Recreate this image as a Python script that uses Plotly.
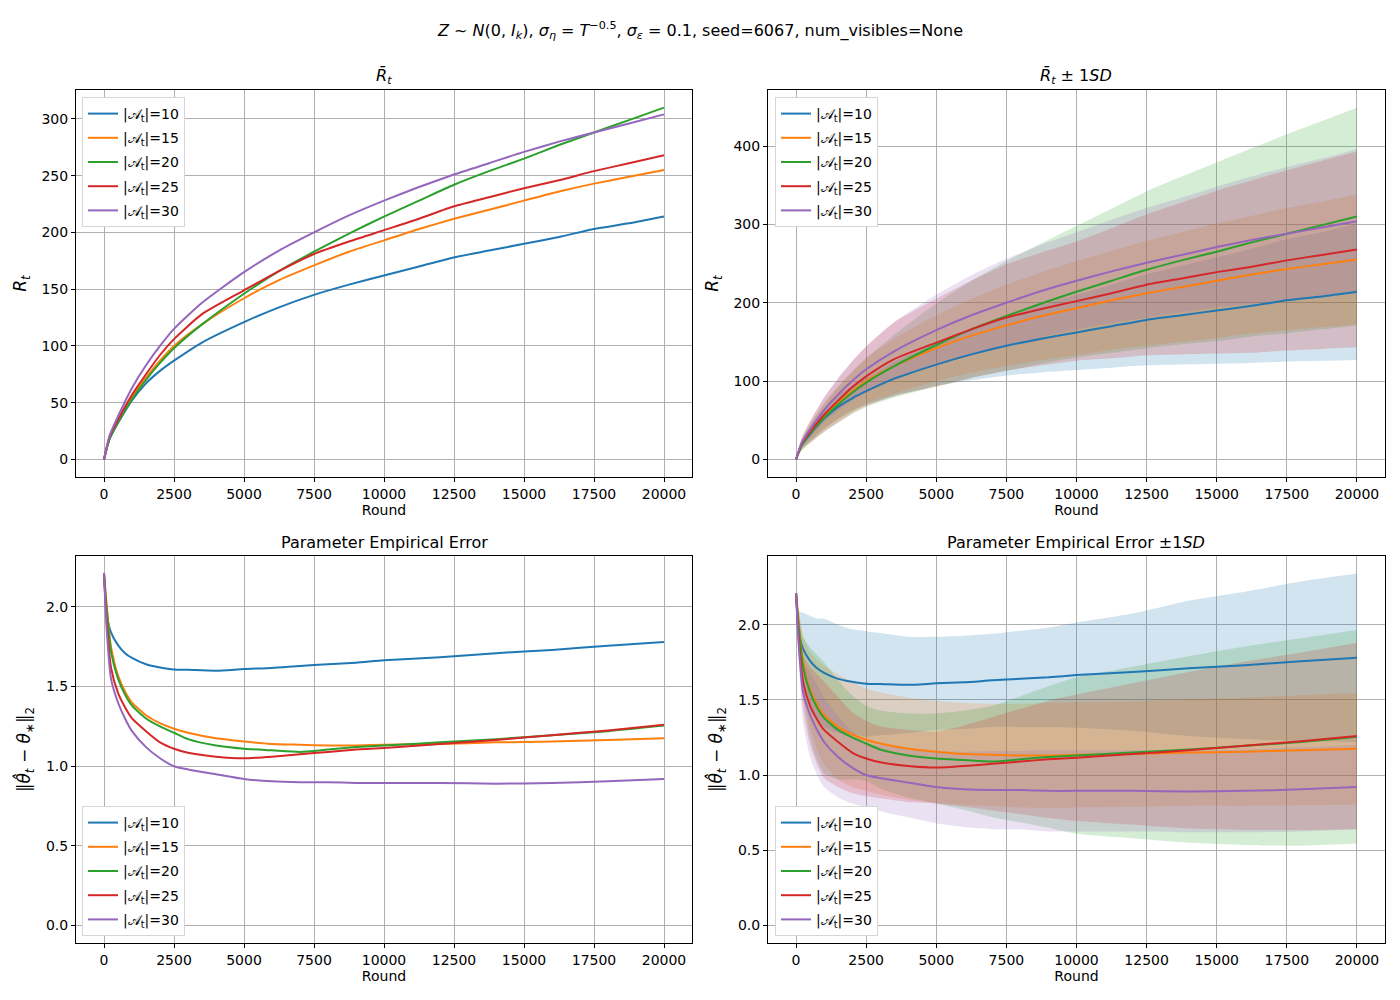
import plotly.graph_objects as go

# ---- data ----
sizes = [10, 15, 20, 25, 30]
colors = ["#1f77b4", "#ff7f0e", "#2ca02c", "#d62728", "#9467bd"]
fills = ["rgba(31,119,180,0.2)", "rgba(255,127,14,0.2)", "rgba(44,160,44,0.2)",
         "rgba(214,39,40,0.2)", "rgba(148,103,189,0.2)"]

# cumulative regret
rounds_top = [0, 200, 500, 1000, 1500, 2000, 2500, 3500, 5000, 6250, 7500,
              8750, 10000, 11250, 12500, 13750, 15000, 16250, 17500, 18750, 20000]
regret_10 = [0, 18, 32, 52, 67, 78, 87, 103, 121, 134, 145, 154, 162, 170, 178, 184, 190, 196, 203, 208, 214]
regret_15 = [0, 19, 34, 55, 72, 87, 100, 119, 142, 158, 171, 183, 193, 203, 212, 220, 228, 236, 243, 249, 255]
regret_20 = [0, 18, 33, 53, 70, 85, 98, 119, 146, 166, 183, 199, 214, 228, 242, 254, 265, 277, 288, 299, 310]
regret_25 = [0, 20, 35, 57, 75, 92, 106, 128, 149, 166, 181, 192, 202, 212, 223, 231, 239, 246, 254, 261, 268]
regret_30 = [0, 21, 38, 63, 83, 100, 115, 138, 165, 184, 200, 215, 228, 240, 251, 261, 271, 280, 288, 296, 304]

regret_sd_10 = [0, 5, 9, 13, 15, 16, 17, 22, 27, 33, 38, 43, 48, 53, 58, 63, 68, 73, 78, 82, 87]
regret_sd_15 = [0, 5, 10, 16, 21, 25, 29, 35, 42, 47, 52, 56, 60, 63, 67, 70, 73, 75, 78, 80, 83]
regret_sd_20 = [0, 7, 12, 18, 23, 27, 31, 40, 53, 62, 70, 77, 84, 92, 100, 107, 114, 120, 127, 133, 139]
regret_sd_25 = [0, 8, 14, 22, 28, 33, 38, 47, 56, 62, 68, 72, 76, 83, 90, 97, 104, 110, 115, 120, 125]
regret_sd_30 = [0, 5, 10, 16, 21, 25, 29, 37, 45, 51, 56, 59, 62, 66, 70, 73, 77, 81, 85, 88, 92]

# parameter error
rounds_err = [0, 100, 250, 500, 750, 1000, 1500, 2000, 2500, 3000, 4000, 5000,
              6000, 7000, 8000, 9000, 10000, 12000, 14000, 16000, 18000, 20000]
err_10 = [2.21, 1.95, 1.84, 1.76, 1.71, 1.68, 1.64, 1.62, 1.607, 1.605, 1.60, 1.61,
          1.617, 1.63, 1.64, 1.65, 1.665, 1.685, 1.71, 1.73, 1.757, 1.78]
err_15 = [2.21, 2.00, 1.75, 1.57, 1.47, 1.40, 1.32, 1.27, 1.235, 1.21, 1.175, 1.155,
          1.14, 1.135, 1.13, 1.13, 1.135, 1.14, 1.15, 1.155, 1.165, 1.175]
err_20 = [2.21, 1.98, 1.72, 1.55, 1.45, 1.38, 1.30, 1.25, 1.21, 1.17, 1.13, 1.11,
          1.10, 1.09, 1.105, 1.12, 1.13, 1.15, 1.17, 1.195, 1.22, 1.255]
err_25 = [2.21, 1.90, 1.62, 1.46, 1.37, 1.30, 1.22, 1.15, 1.11, 1.085, 1.06, 1.05,
          1.06, 1.075, 1.09, 1.105, 1.115, 1.14, 1.165, 1.195, 1.225, 1.26]
err_30 = [2.21, 1.85, 1.55, 1.40, 1.30, 1.22, 1.12, 1.05, 1.00, 0.98, 0.95, 0.92,
          0.905, 0.90, 0.90, 0.895, 0.895, 0.895, 0.89, 0.895, 0.905, 0.92]

err_sd_10 = [0, 0.14, 0.24, 0.30, 0.33, 0.36, 0.36, 0.35, 0.35, 0.34, 0.32, 0.31,
             0.31, 0.31, 0.32, 0.33, 0.35, 0.39, 0.45, 0.49, 0.53, 0.56]
err_sd_15 = [0, 0.10, 0.18, 0.25, 0.30, 0.33, 0.35, 0.35, 0.34, 0.34, 0.34, 0.34,
             0.34, 0.34, 0.345, 0.35, 0.35, 0.35, 0.355, 0.36, 0.365, 0.37]
err_sd_20 = [0, 0.10, 0.20, 0.30, 0.35, 0.37, 0.33, 0.28, 0.25, 0.26, 0.28, 0.30,
             0.33, 0.37, 0.42, 0.47, 0.52, 0.57, 0.62, 0.66, 0.69, 0.71]
err_sd_25 = [0, 0.10, 0.18, 0.26, 0.30, 0.32, 0.30, 0.27, 0.25, 0.24, 0.24, 0.24,
             0.27, 0.31, 0.35, 0.39, 0.42, 0.47, 0.52, 0.56, 0.59, 0.62]
err_sd_30 = [0, 0.10, 0.20, 0.28, 0.30, 0.30, 0.27, 0.24, 0.21, 0.22, 0.23, 0.24,
             0.25, 0.26, 0.26, 0.27, 0.27, 0.27, 0.27, 0.275, 0.28, 0.28]

regret = [regret_10, regret_15, regret_20, regret_25, regret_30]
regret_sd = [regret_sd_10, regret_sd_15, regret_sd_20, regret_sd_25, regret_sd_30]
err = [err_10, err_15, err_20, err_25, err_30]
err_sd = [err_sd_10, err_sd_15, err_sd_20, err_sd_25, err_sd_30]

FONT = "DejaVu Sans"
fig = go.Figure()


def add_bands(x, means, sds, xa, ya):
    for m, s, fc in zip(means, sds, fills):
        lo = [a - b for a, b in zip(m, s)]
        hi = [a + b for a, b in zip(m, s)]
        fig.add_trace(go.Scatter(x=x, y=lo, xaxis=xa, yaxis=ya, mode="lines",
                                 line=dict(width=0, shape="spline", smoothing=0.6),
                                 showlegend=False, hoverinfo="skip"))
        fig.add_trace(go.Scatter(x=x, y=hi, xaxis=xa, yaxis=ya, mode="lines",
                                 line=dict(width=0, shape="spline", smoothing=0.6),
                                 fill="tonexty", fillcolor=fc,
                                 showlegend=False, hoverinfo="skip"))


def add_lines(x, means, xa, ya, legend):
    for m, c, k in zip(means, colors, sizes):
        fig.add_trace(go.Scatter(x=x, y=m, xaxis=xa, yaxis=ya, mode="lines",
                                 line=dict(color=c, width=2, shape="spline", smoothing=0.6),
                                 name="|𝒜<sub>t</sub>|=%d" % k,
                                 legend=legend, legendgroup="%s%d" % (legend, k)))


add_lines(rounds_top, regret, "x", "y", "legend")
add_bands(rounds_top, regret, regret_sd, "x2", "y2")
add_lines(rounds_top, regret, "x2", "y2", "legend2")
add_lines(rounds_err, err, "x3", "y3", "legend3")
add_bands(rounds_err, err, err_sd, "x4", "y4")
add_lines(rounds_err, err, "x4", "y4", "legend4")

W, H = 1400, 1000
OFF = 8  # page body margin


def px(v):
    return (v - OFF) / W


def py(v):
    return 1 - (v - OFF) / H


col_l = [px(76), px(692)]
col_r = [px(768), px(1385)]
row_t = [py(477), py(90)]
row_b = [py(943), py(556)]

axis = dict(showline=True, mirror=True, linecolor="black", linewidth=1,
            ticks="outside", ticklen=4, tickcolor="black", showgrid=True,
            gridcolor="#b0b0b0", gridwidth=0.8, zeroline=False,
            tickfont=dict(size=14, color="black", family=FONT))
xtick = dict(tickvals=[0, 2500, 5000, 7500, 10000, 12500, 15000, 17500, 20000],
             tickformat="d", range=[-1000, 21000],
             title=dict(text="Round", font=dict(size=14, color="black"), standoff=4))

ylab_r = "<i>R<sub>t</sub></i>"
ylab_e = "‖<i>θ̂<sub>t</sub></i> − <i>θ</i><sub>∗</sub>‖<sub>2</sub>"

legend_style = dict(bgcolor="white", bordercolor="#d6d6d6", borderwidth=1,
                    font=dict(size=14, color="black", family=FONT),
                    xanchor="left", yanchor="top", itemwidth=30,
                    tracegroupgap=3)

fig.update_layout(
    width=W, height=H, margin=dict(l=0, r=0, t=0, b=0),
    paper_bgcolor="white", plot_bgcolor="white",
    font=dict(family=FONT, color="black", size=14),
    xaxis=dict(domain=col_l, anchor="y", **axis, **xtick),
    yaxis=dict(domain=row_t, anchor="x", range=[-15.5, 325.5],
               tickvals=[0, 50, 100, 150, 200, 250, 300],
               title=dict(text=ylab_r, standoff=10), **axis),
    xaxis2=dict(domain=col_r, anchor="y2", **axis, **xtick),
    yaxis2=dict(domain=row_t, anchor="x2", range=[-22.5, 471.5],
                tickvals=[0, 100, 200, 300, 400],
                title=dict(text=ylab_r, standoff=10), **axis),
    xaxis3=dict(domain=col_l, anchor="y3", **axis, **xtick),
    yaxis3=dict(domain=row_b, anchor="x3", range=[-0.11, 2.32],
                tickvals=[0, 0.5, 1.0, 1.5, 2.0], tickformat=".1f",
                title=dict(text=ylab_e, standoff=10), **axis),
    xaxis4=dict(domain=col_r, anchor="y4", **axis, **xtick),
    yaxis4=dict(domain=row_b, anchor="x4", range=[-0.117, 2.457],
                tickvals=[0, 0.5, 1.0, 1.5, 2.0], tickformat=".1f",
                title=dict(text=ylab_e, standoff=10), **axis),
    legend=dict(x=px(82), y=py(97), **legend_style),
    legend2=dict(x=px(775), y=py(97), **legend_style),
    legend3=dict(x=px(82), y=py(806), **legend_style),
    legend4=dict(x=px(775), y=py(806), **legend_style),
    showlegend=True,
)

titles = [
    ((col_l[0] + col_l[1]) / 2, py(76), "<i>R̄<sub>t</sub></i>"),
    ((col_r[0] + col_r[1]) / 2, py(76), "<i>R̄<sub>t</sub></i> ± 1<i>SD</i>"),
    ((col_l[0] + col_l[1]) / 2, py(542), "Parameter Empirical Error"),
    ((col_r[0] + col_r[1]) / 2, py(542), "Parameter Empirical Error ±1<i>SD</i>"),
]
for x, y, t in titles:
    fig.add_annotation(x=x, y=y, xref="paper", yref="paper", text=t, showarrow=False,
                       font=dict(size=16, color="black"), xanchor="center", yanchor="middle")

fig.add_annotation(
    x=px(700), y=py(30), xref="paper", yref="paper", showarrow=False,
    text="<i>Z</i> ~ <i>N</i>(0, <i>I<sub>k</sub></i>), <i>σ<sub>η</sub></i> = <i>T</i><sup>−0.5</sup>, "
         "<i>σ<sub>ε</sub></i> = 0.1, seed=6067, num_visibles=None",
    font=dict(size=16, color="black"), xanchor="center", yanchor="middle")

fig.write_html("out.html")
